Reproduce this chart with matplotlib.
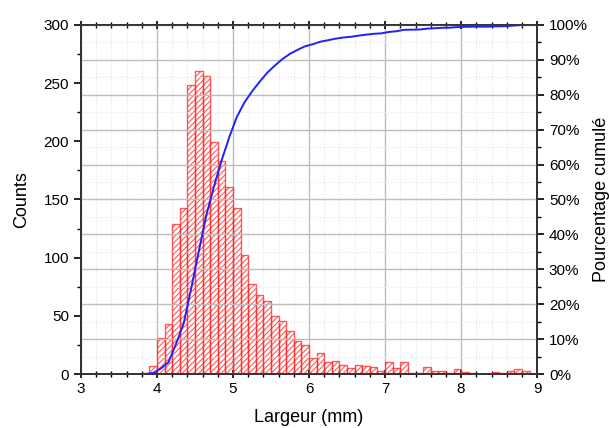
import numpy as np
import matplotlib
matplotlib.use('Agg')
import matplotlib.pyplot as plt
from matplotlib.ticker import MultipleLocator, FuncFormatter

plt.rcParams['font.family'] = ['Liberation Sans', 'DejaVu Sans']
plt.rcParams['hatch.linewidth'] = 0.8

# histogram data (bin width 0.1 mm, first bin starts at 3.8 mm)
bin_start = 3.8
bin_width = 0.1
counts = [1, 7, 31, 43, 129, 143, 248, 260, 256, 199,
          183, 161, 143, 102, 77, 68, 63, 50, 46, 37,
          28, 25, 14, 18, 10, 11, 8, 5, 8, 7,
          6, 3, 10, 5, 10, 1, 1, 6, 3, 3,
          1, 4, 2, 1, 0, 0, 2, 1, 3, 4, 3]

x_label = 'Largeur (mm)'
y_label = 'Counts'
y2_label = 'Pourcentage cumulé'

counts = np.array(counts, dtype=float)
lefts = bin_start + bin_width * np.arange(len(counts))
centers = lefts + bin_width / 2
cum_pct = np.cumsum(counts) / counts.sum() * 100

fig = plt.figure(figsize=(6.09, 4.28), dpi=100)
ax = fig.add_axes([0.133, 0.126, 0.749, 0.816])

ax.bar(lefts, counts, width=bin_width, align='edge', facecolor='none',
       edgecolor=(1, 0.15, 0.15, 0.75), hatch='//////', linewidth=1.0, zorder=3)

ax.set_xlim(3, 9)
ax.set_ylim(0, 300)
ax.xaxis.set_major_locator(MultipleLocator(1))
ax.xaxis.set_minor_locator(MultipleLocator(0.2))
ax.yaxis.set_major_locator(MultipleLocator(50))
ax.yaxis.set_minor_locator(MultipleLocator(25))
ax.tick_params(axis='x', which='both', top=True, direction='inout', labelsize=11, pad=3)
ax.tick_params(axis='x', which='major', length=6, width=1.2)
ax.tick_params(axis='x', which='minor', length=4, width=1.0)
ax.tick_params(axis='y', which='both', direction='out', labelsize=11)
ax.tick_params(axis='y', which='major', length=5, width=1.2)
ax.tick_params(axis='y', which='minor', length=3, width=1.0)
ax.grid(True, axis='x', which='major', color='#bdbdbd', linewidth=1.0)
ax.grid(True, axis='x', which='minor', color='#e4e4e4', linewidth=0.8, linestyle=':')
ax.set_xlabel(x_label, fontsize=13, labelpad=9)
ax.set_ylabel(y_label, fontsize=13, labelpad=10)
for s in ax.spines.values():
    s.set_linewidth(1.3)
    s.set_color('#333333')

ax2 = ax.twinx()
ax2.plot(centers, cum_pct, color='#2020ff', linewidth=1.4, zorder=4)
ax2.set_ylim(0, 100)
ax2.yaxis.set_major_locator(MultipleLocator(10))
ax2.yaxis.set_minor_locator(MultipleLocator(5))
ax2.yaxis.set_major_formatter(FuncFormatter(lambda v, p: f'{v:.0f}%'))
ax2.tick_params(axis='y', which='both', direction='out', labelsize=11)
ax2.tick_params(axis='y', which='major', length=5, width=1.2)
ax2.tick_params(axis='y', which='minor', length=3, width=1.0)
ax2.grid(True, axis='y', which='major', color='#bdbdbd', linewidth=1.0)
ax2.grid(True, axis='y', which='minor', color='#e4e4e4', linewidth=0.8, linestyle=':')
ax2.set_ylabel(y2_label, fontsize=13, labelpad=4)
for s in ax2.spines.values():
    s.set_linewidth(1.3)
    s.set_color('#333333')

fig.savefig('out.png', dpi=100)
